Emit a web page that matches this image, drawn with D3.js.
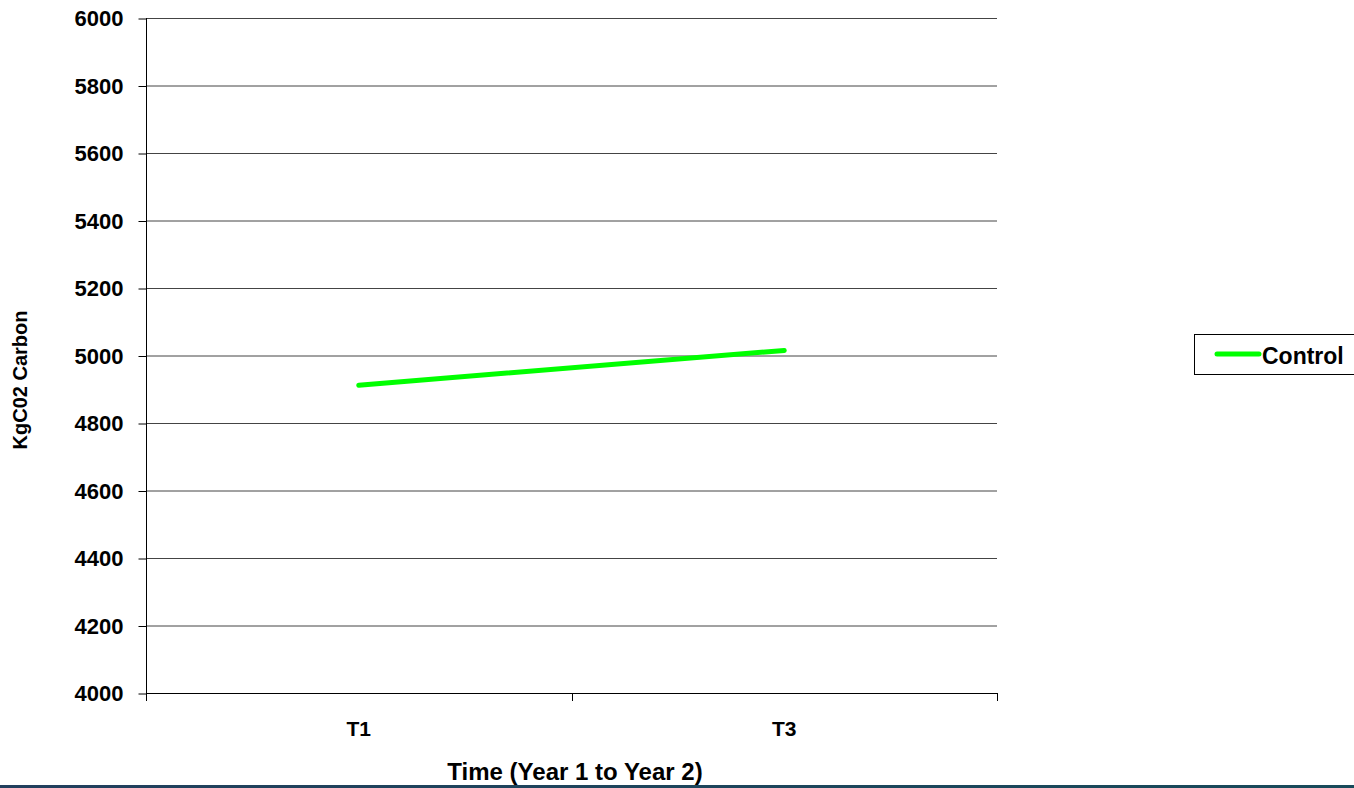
<!DOCTYPE html>
<html><head><meta charset="utf-8">
<script src="https://cdn.jsdelivr.net/npm/d3@7"></script>
<style>body{margin:0;background:#fff}svg{display:block}</style>
</head><body>
<svg id="c" width="1354" height="788"></svg>
<script>
const categories = ["T1", "T3"];
const seriesName = "Control";
const controlValues = [4912, 5015];
const yTicks = [4000, 4200, 4400, 4600, 4800, 5000, 5200, 5400, 5600, 5800, 6000];

const svg = d3.select("#c");
const font = "'Liberation Sans', Arial, sans-serif";
const L = 146, R = 997, T = 18, B = 693;

const x = d3.scaleBand().domain(categories).range([L, R]);
const y = d3.scaleLinear().domain([4000, 6000]).range([B, T]);

// gridlines
svg.append("g").selectAll("line").data(yTicks).join("line")
  .attr("x1", L).attr("x2", R)
  .attr("y1", d => y(d) + 0.5).attr("y2", d => y(d) + 0.5)
  .attr("stroke", "#444").attr("stroke-width", 1);

// y axis
const ya = svg.append("g").attr("transform", `translate(${L + 0.5},0)`)
  .call(d3.axisLeft(y).tickValues(yTicks).tickSize(8).tickPadding(15).tickFormat(d3.format("d")));
ya.select(".domain").attr("stroke", "#000").attr("d", `M0,${T}V${B}`);
ya.selectAll(".tick line").attr("stroke", "#000").attr("transform", "translate(0,0.5)");
ya.selectAll("text").attr("font-family", font).attr("font-weight", "bold")
  .attr("font-size", 22).attr("fill", "#000").attr("dy", "0.36em");

// x axis
const xa = svg.append("g").attr("transform", `translate(0,${B + 0.5})`)
  .call(d3.axisBottom(x).tickSize(0).tickPadding(28));
xa.select(".domain").attr("stroke", "#000").attr("d", `M${L},0H${R}`);
xa.selectAll("text").attr("font-family", font).attr("font-weight", "bold")
  .attr("font-size", 21).attr("fill", "#000");
// category boundary ticks
const bounds = [L, L + x.bandwidth(), R];
svg.append("g").selectAll("line").data(bounds).join("line")
  .attr("x1", d => Math.round(d) + 0.5).attr("x2", d => Math.round(d) + 0.5)
  .attr("y1", B).attr("y2", B + 8).attr("stroke", "#000");

// line
const line = d3.line().x((d, i) => x(categories[i]) + x.bandwidth() / 2).y(d => y(d));
svg.append("path").datum(controlValues).attr("d", line)
  .attr("fill", "none").attr("stroke", "#00ff00").attr("stroke-width", 5)
  .attr("stroke-linecap", "round").attr("stroke-linejoin", "round");

// axis titles
svg.append("text").attr("x", 575).attr("y", 780).attr("text-anchor", "middle")
  .attr("font-family", font).attr("font-weight", "bold").attr("font-size", 24)
  .text("Time (Year 1 to Year 2)");
svg.append("text").attr("transform", `translate(27,380) rotate(-90)`)
  .attr("text-anchor", "middle")
  .attr("font-family", font).attr("font-weight", "bold").attr("font-size", 20)
  .text("KgC02 Carbon");

// legend
const lg = svg.append("g");
lg.append("rect").attr("x", 1194.5).attr("y", 334.5).attr("width", 170).attr("height", 40)
  .attr("fill", "#fff").attr("stroke", "#000");
lg.append("line").attr("x1", 1217).attr("x2", 1259).attr("y1", 354).attr("y2", 354)
  .attr("stroke", "#00ff00").attr("stroke-width", 5).attr("stroke-linecap", "round");
lg.append("text").attr("x", 1262).attr("y", 364).attr("font-family", font)
  .attr("font-weight", "bold").attr("font-size", 23).text(seriesName);

// bottom band
const grad = svg.append("defs").append("linearGradient").attr("id", "bg");
grad.append("stop").attr("offset", "0%").attr("stop-color", "#223f5d");
grad.append("stop").attr("offset", "100%").attr("stop-color", "#184a5a");
svg.append("rect").attr("x", 0).attr("y", 785).attr("width", 1354).attr("height", 3).attr("fill", "url(#bg)");
</script>
</body></html>
